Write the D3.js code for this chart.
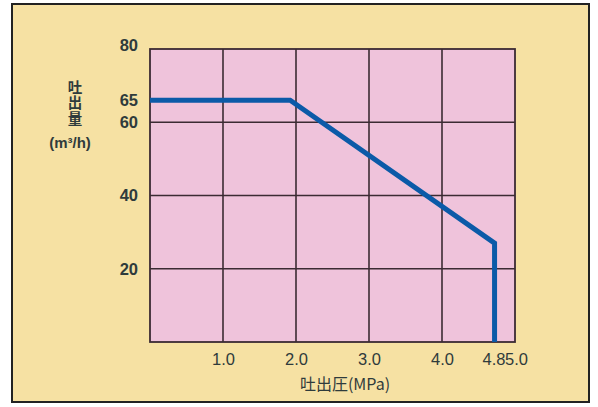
<!DOCTYPE html>
<html>
<head>
<meta charset="utf-8">
<script src="https://cdn.jsdelivr.net/npm/d3@7"></script>
<style>
  body { margin: 0; background: #fff; }
  text { font-family: "Liberation Sans", Arial, sans-serif; fill: #2f3b3c; }
</style>
</head>
<body>
<div id="chart"></div>
<script>
// values
var pressure = [0, 1.92, 4.72, 4.72];   // MPa
var flow = [66, 66, 27, 0];             // m3/h
var xTickValues = [1, 2, 3, 4, 4.72, 5];
var xTickLabels = ['1.0', '2.0', '3.0', '4.0', '4.8', '5.0'];
var yTickValues = [20, 40, 60, 66, 80];
var yTickLabels = ['20', '40', '60', '65', '80'];
var xGrid = [1, 2, 3, 4];
var yGrid = [20, 40, 60];

var W = 598, H = 407;
var svg = d3.select('#chart').append('svg').attr('width', W).attr('height', H);

// frame
svg.append('rect').attr('x', 12).attr('y', 4).attr('width', 577).attr('height', 398)
  .attr('fill', '#f6e1a3').attr('stroke', '#222').attr('stroke-width', 2);

var x = d3.scaleLinear().domain([0, 5]).range([150, 515]);
var y = d3.scaleLinear().domain([0, 80]).range([342, 49]);

svg.append('rect').attr('x', x(0)).attr('y', y(80))
  .attr('width', x(5) - x(0)).attr('height', y(0) - y(80))
  .attr('fill', '#efc3db');

var g = svg.append('g');
g.selectAll('.vg').data(xGrid).enter().append('line')
  .attr('x1', d => x(d)).attr('x2', d => x(d)).attr('y1', y(0)).attr('y2', y(80))
  .attr('stroke', '#3b2b33').attr('stroke-width', 1.6);
g.selectAll('.hg').data(yGrid).enter().append('line')
  .attr('x1', x(0)).attr('x2', x(5)).attr('y1', d => y(d)).attr('y2', d => y(d))
  .attr('stroke', '#3b2b33').attr('stroke-width', 1.6);
g.append('rect').attr('x', x(0)).attr('y', y(80))
  .attr('width', x(5) - x(0)).attr('height', y(0) - y(80))
  .attr('fill', 'none').attr('stroke', '#3b2b33').attr('stroke-width', 1.8);

// curve
var line = d3.line().x((d, i) => x(pressure[i])).y(d => y(d));
svg.append('path').datum(flow).attr('d', line)
  .attr('fill', 'none').attr('stroke', '#0b5aa8').attr('stroke-width', 5)
  .attr('stroke-linejoin', 'miter');

// axes
var xAxis = d3.axisBottom(x).tickValues(xTickValues).tickSize(0)
  .tickFormat((d, i) => xTickLabels[i]);
var ax = svg.append('g').attr('transform', 'translate(0,' + (y(0) + 8) + ')').call(xAxis);
ax.select('.domain').remove();
ax.selectAll('text').attr('font-size', 16.5).attr('fill', '#2f3b3c')
  .style('font-family', '"Liberation Sans", Arial, sans-serif');
ax.selectAll('.tick').filter(d => d == 4.72).select('text').attr('dx', -1);
ax.selectAll('.tick').filter(d => d == 5).select('text').attr('dx', 1);

var yAxis = d3.axisLeft(y).tickValues(yTickValues).tickSize(0)
  .tickFormat((d, i) => yTickLabels[i]);
var ay = svg.append('g').attr('transform', 'translate(141,0)').call(yAxis);
ay.select('.domain').remove();
ay.selectAll('text').attr('font-size', 16.5).attr('font-weight', 'bold').attr('fill', '#2f3b3c')
  .style('font-family', '"Liberation Sans", Arial, sans-serif');
ay.selectAll('.tick').filter(d => d == 80).select('text').attr('dy', '0.1em');

// titles
svg.append('text').attr('x', 345).attr('y', 390).attr('text-anchor', 'middle')
  .attr('font-size', 16).style('font-family', '"Noto Sans CJK JP", sans-serif')
  .text('吐出圧(MPa)');
svg.append('text').attr('x', 75).attr('y', 80)
  .attr('font-size', 14.5).attr('font-weight', 'bold')
  .style('font-family', '"Noto Sans CJK JP", sans-serif')
  .style('writing-mode', 'vertical-rl').style('text-orientation', 'upright')
  .style('letter-spacing', '1px')
  .text('吐出量');
svg.append('text').attr('x', 70).attr('y', 148).attr('text-anchor', 'middle')
  .attr('font-size', 15).attr('font-weight', 'bold')
  .style('font-family', '"Liberation Sans", Arial, sans-serif')
  .text('(m³/h)');
</script>
</body>
</html>
